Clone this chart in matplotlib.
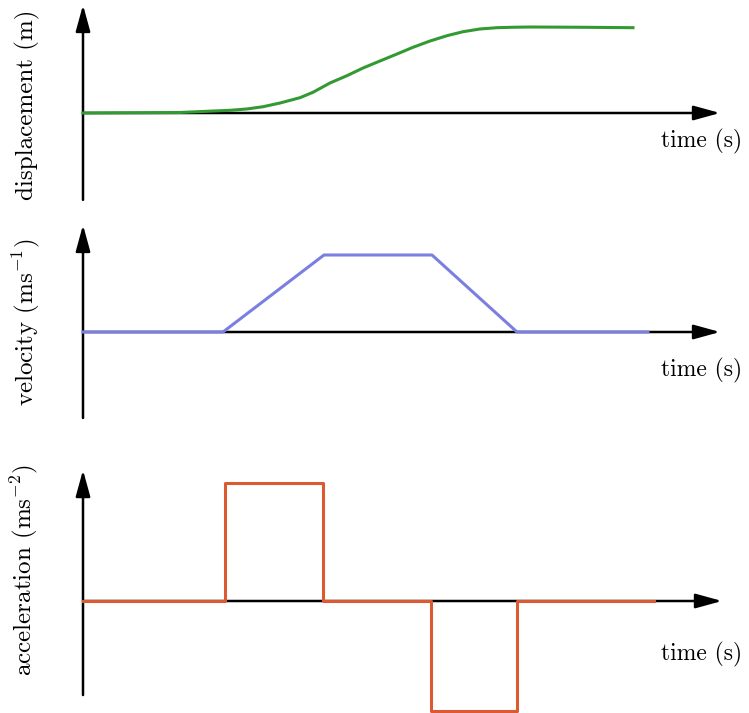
import matplotlib
matplotlib.use("Agg")
import matplotlib.pyplot as plt

plt.rcParams['font.family'] = 'serif'
plt.rcParams['font.serif'] = ['cmr10']
plt.rcParams['mathtext.fontset'] = 'cm'
plt.rcParams['axes.unicode_minus'] = False

# displacement curve
disp_t = [0, 0.97, 1.30, 1.47, 1.64, 1.80, 1.97, 2.17, 2.30, 2.47, 2.64, 2.80, 2.97,
          3.14, 3.30, 3.47, 3.64, 3.80, 3.97, 4.14, 4.30, 4.47, 4.97, 5.50]
disp_v = [0, 0.006, 0.023, 0.031, 0.047, 0.073, 0.116, 0.178, 0.241, 0.349, 0.434, 0.523, 0.605,
          0.686, 0.764, 0.837, 0.899, 0.945, 0.977, 0.992, 0.997, 1.0, 0.997, 0.992]

# velocity: trapezoid
vel_t = [0, 1.40, 2.41, 3.49, 4.34, 5.65]
vel_v = [0, 0, 1, 1, 0, 0]

# acceleration: two pulses
acc_t = [0, 1.42, 1.42, 2.40, 2.40, 3.48, 3.48, 4.34, 4.34, 5.71]
acc_v = [0, 0, 1, 1, 0, 0, -0.927, -0.927, 0, 0]

xlabel = 'time (s)'
ylabels = ['displacement (m)', r'velocity (ms$^{-1}$)', r'acceleration (ms$^{-2}$)']

fig = plt.figure(figsize=(7.49, 7.13), dpi=100)
H = 713.0

def panel(row_top, row_bot, zero_row, unit_px):
    ax = fig.add_axes([0, (H - row_bot) / H, 1, (row_bot - row_top) / H])
    ax.set_xlim(-0.83, 6.66)
    ax.set_ylim((zero_row - row_bot) / unit_px, (zero_row - row_top) / unit_px)
    ax.axis('off')
    return ax

def axes_arrows(ax, y_bot, y_top, x_end):
    ap = dict(arrowstyle='-|>,head_length=0.8,head_width=0.22', mutation_scale=20,
              lw=1.8, color='black', shrinkA=0, shrinkB=0)
    ax.annotate('', xy=(0, y_top), xytext=(0, y_bot), arrowprops=ap, zorder=3)
    ax.annotate('', xy=(x_end, 0), xytext=(0, 0), arrowprops=ap, zorder=3)

# displacement
ax1 = panel(0, 215, 113, 86)
axes_arrows(ax1, -1.01, 1.256, 6.37)
ax1.plot(disp_t, disp_v, color='#339933', lw=2.2, zorder=4, solid_joinstyle='round')
ax1.text(6.19, -0.33, xlabel, fontsize=17, ha='center', va='center')
ax1.text(-0.56, 0.09, ylabels[0], fontsize=18, rotation=90, ha='center', va='center')

# velocity
ax2 = panel(215, 430, 332, 77)
axes_arrows(ax2, -1.117, 1.39, 6.37)
ax2.plot(vel_t, vel_v, color='#7b80e0', lw=2.2, zorder=4)
ax2.text(6.19, -0.5, xlabel, fontsize=17, ha='center', va='center')
ax2.text(-0.57, 0.13, ylabels[1], fontsize=18, rotation=90, ha='center', va='center')

# acceleration
ax3 = panel(430, 713, 601, 118.3)
axes_arrows(ax3, -0.795, 1.107, 6.39)
ax3.plot(acc_t, acc_v, color='#dc5a32', lw=2.2, zorder=4)
ax3.text(6.19, -0.456, xlabel, fontsize=17, ha='center', va='center')
ax3.text(-0.59, 0.26, ylabels[2], fontsize=18, rotation=90, ha='center', va='center')

fig.savefig('out.png', dpi=100)
